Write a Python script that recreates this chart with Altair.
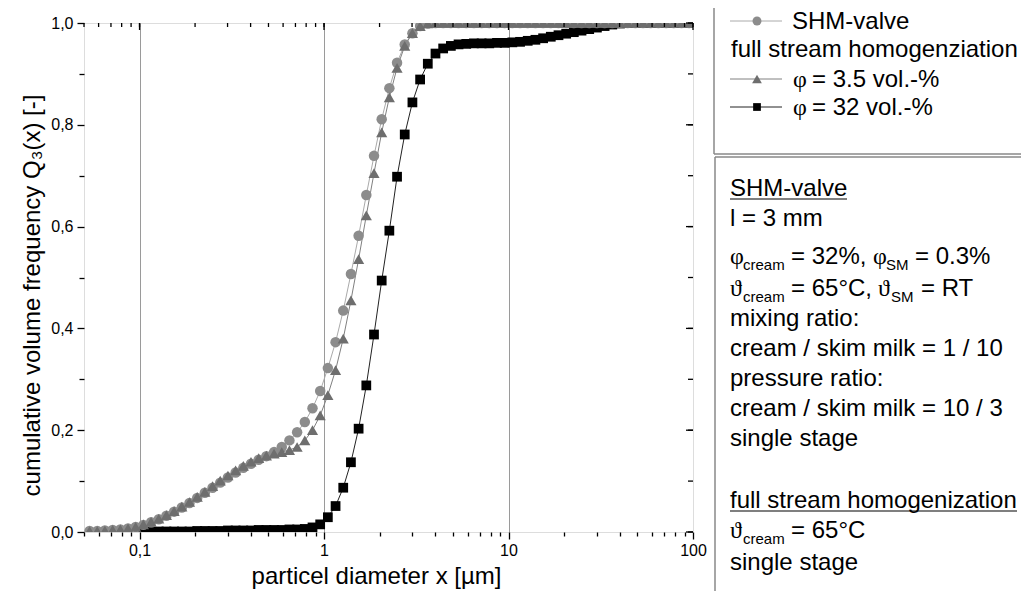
import altair as alt
import pandas as pd

# ---------------- data ----------------
x_grid = [
    0.0536, 0.0590, 0.0649, 0.0715, 0.0787, 0.0866, 0.0953,
    0.1049, 0.1155, 0.1271, 0.1399, 0.1540, 0.1695, 0.1866, 0.2054, 0.2260, 0.2488,
    0.2738, 0.3014, 0.3318, 0.3652, 0.4019, 0.4424, 0.4870, 0.5360, 0.5900, 0.6494,
    0.7148, 0.7867, 0.8660, 0.9532,
    1.049, 1.155, 1.271, 1.399, 1.540, 1.695, 1.866, 2.054, 2.260, 2.488,
    2.738, 3.014, 3.318, 3.652, 4.019, 4.424, 4.870, 5.360, 5.900, 6.494,
    7.148, 7.867, 8.660, 9.532,
    10.49, 11.55, 12.71, 13.99, 15.40, 16.95, 18.66, 20.54, 22.60, 24.88,
    27.38, 30.14, 33.18, 36.52, 40.19, 44.24, 48.70, 53.60, 59.00, 64.94,
    71.48, 78.67, 86.60, 95.32,
]

shm_valve = [
    0.002, 0.002, 0.003, 0.004, 0.005, 0.007, 0.010,
    0.014, 0.019, 0.025, 0.032, 0.040, 0.048, 0.057, 0.067, 0.077, 0.087,
    0.097, 0.107, 0.117, 0.126, 0.134, 0.142, 0.149, 0.157, 0.167, 0.180,
    0.196, 0.216, 0.243, 0.277,
    0.322, 0.373, 0.435, 0.507, 0.582, 0.662, 0.739, 0.811, 0.872, 0.922,
    0.958, 0.980, 0.994, 0.999, 1.0, 1.0, 1.0, 1.0, 1.0, 1.0,
    1.0, 1.0, 1.0, 1.0,
    1.0, 1.0, 1.0, 1.0, 1.0, 1.0, 1.0, 1.0, 1.0, 1.0,
    1.0, 1.0, 1.0, 1.0, 1.0, 1.0, 1.0, 1.0, 1.0, 1.0,
    1.0, 1.0, 1.0, 1.0,
]

full_stream_3_5 = [
    0.002, 0.002, 0.003, 0.004, 0.005, 0.007, 0.010,
    0.015, 0.020, 0.026, 0.033, 0.041, 0.050, 0.059, 0.069, 0.079, 0.090,
    0.101, 0.111, 0.121, 0.130, 0.138, 0.145, 0.150, 0.154, 0.157, 0.161,
    0.167, 0.180, 0.200, 0.229,
    0.269, 0.318, 0.380, 0.455, 0.536, 0.622, 0.705, 0.785, 0.854, 0.912,
    0.955, 0.980, 0.994, 0.999, 1.0, 1.0, 1.0, 1.0, 1.0, 1.0,
    1.0, 1.0, 1.0, 1.0,
    1.0, 1.0, 1.0, 1.0, 1.0, 1.0, 1.0, 1.0, 1.0, 1.0,
    1.0, 1.0, 1.0, 1.0, 1.0, 1.0, 1.0, 1.0, 1.0, 1.0,
    1.0, 1.0, 1.0, 1.0,
]

# starts at x_grid[7] (0.1049 µm)
full_stream_32 = [
    0.000, 0.000, 0.001, 0.001, 0.001, 0.001, 0.001, 0.002, 0.002, 0.002,
    0.002, 0.003, 0.003, 0.003, 0.003, 0.004, 0.004, 0.004, 0.004, 0.005,
    0.005, 0.006, 0.009, 0.015,
    0.029, 0.051, 0.087, 0.137, 0.203, 0.288, 0.388, 0.494, 0.592, 0.698,
    0.781, 0.844, 0.889, 0.920, 0.940, 0.950, 0.955, 0.958, 0.959, 0.960,
    0.960, 0.960, 0.961, 0.961,
    0.962, 0.963, 0.965, 0.967, 0.970, 0.973, 0.976, 0.979, 0.982, 0.985,
    0.988, 0.991, 0.994, 0.997, 0.999, 1.0, 1.0, 1.0, 1.0, 1.0,
    1.0, 1.0, 1.0, 1.0,
]

series_names = ["φ = 32 vol.-%", "SHM-valve", "φ = 3.5 vol.-%"]

x_tick_values = [0.05, 0.06, 0.07, 0.08, 0.09,
                 0.1, 0.2, 0.3, 0.4, 0.5, 0.6, 0.7, 0.8, 0.9,
                 1, 2, 3, 4, 5, 6, 7, 8, 9,
                 10, 20, 30, 40, 50, 60, 70, 80, 90, 100]
x_major_values = [0.1, 1, 10, 100]
y_tick_values = [0, 0.1, 0.2, 0.3, 0.4, 0.5, 0.6, 0.7, 0.8, 0.9, 1.0]
y_major_values = [0, 0.2, 0.4, 0.6, 0.8, 1.0]

# ---------------- table ----------------
rows = []
for xv, q in zip(x_grid[7:], full_stream_32):
    rows.append({"x": xv, "q": q, "s": series_names[0]})
for xv, q in zip(x_grid, shm_valve):
    rows.append({"x": xv, "q": q, "s": series_names[1]})
for xv, q in zip(x_grid, full_stream_3_5):
    rows.append({"x": xv, "q": q, "s": series_names[2]})
df = pd.DataFrame(rows)

# ---------------- layout ----------------
W, H = 609, 509
LEFT, TOP = 84, 23      # page position of the plot area's top-left corner
SANS = "Liberation Sans, Arial, sans-serif"
SERIF = "Liberation Serif, DejaVu Serif, serif"


def px(v):
    return v - LEFT


def py(v):
    return v - TOP


x_scale = alt.Scale(type="log", domain=[0.05, 100], nice=False)
y_scale = alt.Scale(domain=[0, 1], nice=False, zero=False)

major_x_test = "datum.value==0.1||datum.value==1||datum.value==10||datum.value==100"
grid_test = "datum.value==0.1||datum.value==1||datum.value==10"
major_y_test = "round(datum.value*10)%2==0"

x_axis = alt.Axis(
    values=x_tick_values,
    labelExpr="datum.value==0.1?'0,1':(datum.value==1?'1':(datum.value==10?'10':(datum.value==100?'100':'')))",
    labelFont=SANS, labelFontSize=16, labelColor="black", labelPadding=3,
    labelFlush=False, labelOverlap=False,
    tickSize={"condition": {"test": major_x_test, "value": 7}, "value": 4},
    tickColor="black", tickWidth=1.3, domain=False,
    grid=True, gridColor="#9a9a9a", gridWidth=1,
    gridOpacity={"condition": {"test": grid_test, "value": 1}, "value": 0},
    title="particel diameter x [µm]", titleFont=SANS, titleFontSize=24,
    titleFontWeight="normal", titleColor="black",
    titleX=292, titleY=51, titleBaseline="alphabetic", titleAlign="center",
)

y_axis = alt.Axis(
    values=y_tick_values,
    labelExpr="round(datum.value*10)%2==0 ? replace(format(datum.value,'.1f'),'.',',') : ''",
    labelFont=SANS, labelFontSize=16, labelColor="black", labelPadding=4,
    labelOverlap=False,
    tickSize={"condition": {"test": major_y_test, "value": 7}, "value": 5},
    tickColor="black", tickWidth=1.3, domain=False, grid=False,
    title="cumulative volume frequency Q₃(x) [-]", titleFont=SANS, titleFontSize=24,
    titleFontWeight="normal", titleColor="black",
    titleX=-45, titleY=272, titleAngle=270, titleBaseline="alphabetic", titleAlign="center",
)

base = alt.Chart(df)

lines = base.mark_line(strokeWidth=1, clip=True).encode(
    x=alt.X("x:Q", scale=x_scale, axis=x_axis),
    y=alt.Y("q:Q", scale=y_scale, axis=y_axis),
    stroke=alt.Stroke("s:N", scale=alt.Scale(domain=series_names,
                                             range=["#222222", "#aaaaaa", "#808080"]),
                      legend=None),
    order=alt.Order("x:Q"),
)

points = base.mark_point(filled=True, opacity=1, clip=True).encode(
    x=alt.X("x:Q"),
    y=alt.Y("q:Q"),
    fill=alt.Fill("s:N", scale=alt.Scale(domain=series_names,
                                         range=["#000000", "#8c8c8c", "#6e6e6e"]),
                  legend=None),
    shape=alt.Shape("s:N", scale=alt.Scale(domain=series_names,
                                           range=["square", "circle", "triangle-up"]),
                    legend=None),
    size=alt.Size("s:N", scale=alt.Scale(domain=series_names, range=[95, 125, 145]),
                  legend=None),
)

# mirrored inward ticks on the top and right edges
top_major = alt.Chart(pd.DataFrame({"x": x_major_values})).mark_rule(
    color="black", strokeWidth=1.3).encode(x=alt.X("x:Q"), y=alt.value(0), y2=alt.value(7))
top_minor = alt.Chart(pd.DataFrame({"x": x_tick_values})).mark_rule(
    color="black", strokeWidth=1.3).encode(x=alt.X("x:Q"), y=alt.value(0), y2=alt.value(4))
right_major = alt.Chart(pd.DataFrame({"q": y_major_values})).mark_rule(
    color="black", strokeWidth=1.3).encode(y=alt.Y("q:Q"), x=alt.value(W), x2=alt.value(W - 7))
right_minor = alt.Chart(pd.DataFrame({"q": y_tick_values})).mark_rule(
    color="black", strokeWidth=1.3).encode(y=alt.Y("q:Q"), x=alt.value(W), x2=alt.value(W - 5))

one = alt.Data(values=[{"a": 0}])


def txt(s, x, y, size=24, font=SANS):
    return alt.Chart(one).mark_text(
        align="left", baseline="alphabetic", fontSize=size, font=font, color="black"
    ).encode(x=alt.value(px(x)), y=alt.value(py(y)), text=alt.value(s))


def hline(x1, x2, y, color="black", width=1.2):
    return alt.Chart(one).mark_rule(color=color, strokeWidth=width).encode(
        x=alt.value(px(x1)), x2=alt.value(px(x2)), y=alt.value(py(y)))


def vline(x, y1, y2, color="#888888", width=1.5):
    return alt.Chart(one).mark_rule(color=color, strokeWidth=width).encode(
        x=alt.value(px(x)), y=alt.value(py(y1)), y2=alt.value(py(y2)))


def sym(shape, x, y, fill, size):
    return alt.Chart(one).mark_point(shape=shape, filled=True, opacity=1,
                                     color=fill, size=size).encode(
        x=alt.value(px(x)), y=alt.value(py(y)))


annot = []
# legend box
annot += [vline(714, 8, 154), hline(714, 1021, 154, "#888888", 1.5)]
annot += [hline(730, 782, 21, "#aaaaaa", 1), sym("circle", 757, 21, "#8c8c8c", 80),
          txt("SHM-valve", 792, 29)]
annot += [txt("full stream homogenziation", 731, 57)]
annot += [hline(730, 782, 79, "#808080", 1), sym("triangle-up", 757, 79, "#6e6e6e", 95),
          txt("φ", 793, 87, 24, SERIF), txt("= 3.5 vol.-%", 812, 87)]
annot += [hline(730, 782, 107, "#222222", 1), sym("square", 757, 107, "#000000", 60),
          txt("φ", 793, 115, 24, SERIF), txt("= 32 vol.-%", 812, 115)]

# text box
annot += [hline(715, 1021, 157, "#888888", 1.5), vline(715, 157, 591)]
annot += [txt("SHM-valve", 730, 196), hline(730, 847, 199)]
annot += [txt("l = 3 mm", 730, 226)]
annot += [txt("φ", 730, 264, 24, SERIF), txt("cream", 743, 270, 15),
          txt("= 32%,", 791, 264), txt("φ", 873, 264, 24, SERIF),
          txt("SM", 886, 270, 15), txt("= 0.3%", 915, 264)]
annot += [txt("ϑ", 730, 296, 24, SERIF), txt("cream", 743, 302, 15),
          txt("= 65°C,", 791, 296), txt("ϑ", 878, 296, 24, SERIF),
          txt("SM", 891, 302, 15), txt("= RT", 921, 296)]
annot += [txt("mixing ratio:", 730, 326)]
annot += [txt("cream / skim milk = 1 / 10", 730, 356)]
annot += [txt("pressure ratio:", 730, 386)]
annot += [txt("cream / skim milk = 10 / 3", 730, 416)]
annot += [txt("single stage", 730, 446)]
annot += [txt("full stream homogenization", 730, 508), hline(730, 1017, 511)]
annot += [txt("ϑ", 730, 538, 24, SERIF), txt("cream", 743, 544, 15),
          txt("= 65°C", 791, 538)]
annot += [txt("single stage", 730, 570)]

chart = alt.layer(
    lines, points, top_major, top_minor, right_major, right_minor, *annot
).properties(
    width=W, height=H,
    autosize=alt.AutoSizeParams(type="none"),
    padding={"left": 76, "top": 15, "right": 328, "bottom": 59},
).configure_view(stroke="black", strokeWidth=1.5).configure(background="white")

chart.save("out.html", embed_options={"renderer": "svg", "actions": False})
